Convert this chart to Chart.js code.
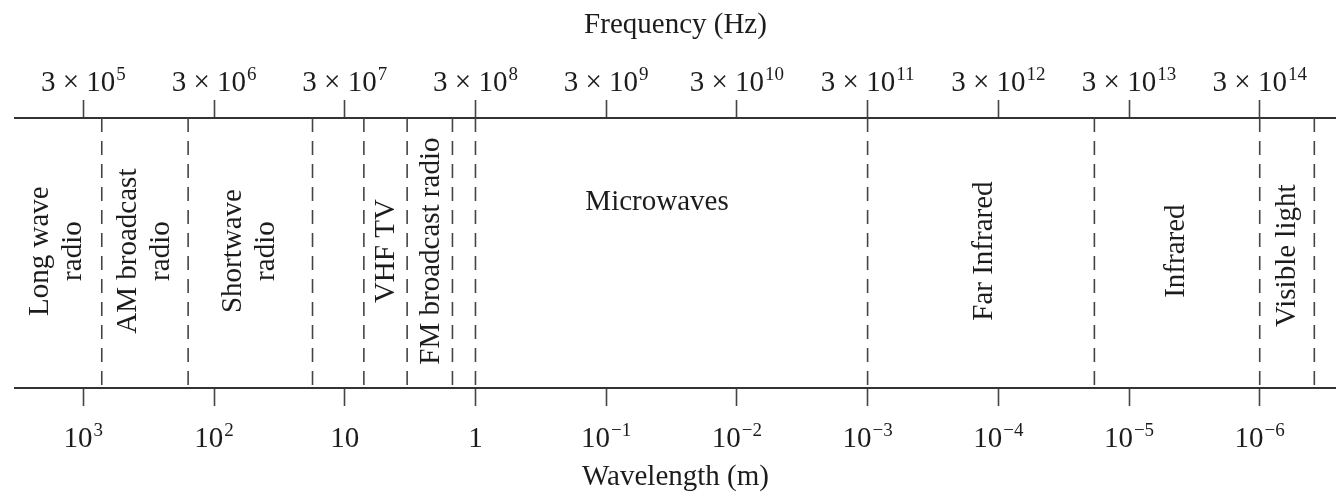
<!DOCTYPE html>
<html>
<head>
<meta charset="utf-8">
<script src="https://cdn.jsdelivr.net/npm/chart.js@4.4.1/dist/chart.umd.min.js"></script>
<style>
  html, body { margin: 0; padding: 0; background: #fff; }
  #wrap { width: 1336px; height: 498px; }
</style>
</head>
<body>
<div id="wrap"><canvas id="spectrum" width="1336" height="498"></canvas></div>
<script>
// frequency ticks in Hz (top axis shows 3 x 10^n, bottom axis the wavelength)
const tickFreqs = [3e5, 3e6, 3e7, 3e8, 3e9, 3e10, 3e11, 3e12, 3e13, 3e14];
const freqExponents = ["5", "6", "7", "8", "9", "10", "11", "12", "13", "14"];
const wavelengthBases = ["10", "10", "10", "1", "10", "10", "10", "10", "10", "10"];
const wavelengthExponents = ["3", "2", "", "", "−1", "−2", "−3", "−4", "−5", "−6"];

// band boundaries (Hz), dashed lines
const boundaries = [4.15e5, 1.9e6, 1.7e7, 4.2e7, 9.0e7, 2.0e8, 3e8, 3e11, 1.63e13, 3e14, 7.85e14];

// band names and where the text sits
const bandNames = [
  ["Long wave", "radio"],
  ["AM broadcast", "radio"],
  ["Shortwave", "radio"],
  ["VHF TV"],
  ["FM broadcast radio"],
  ["Microwaves"],
  ["Far Infrared"],
  ["Infrared"],
  ["Visible light"]
];
const bandLabelFreqs = [1.89e5, 8.9e5, 5.65e6, 6.2e7, 1.37e8, 7.35e9, 2.33e12, 6.9e13, 4.9e14];
const bandLabelHeights = [0.507, 0.507, 0.507, 0.507, 0.507, 0.689, 0.507, 0.507, 0.49];
const bandVertical = [true, true, true, true, true, false, true, true, true];

const FONT = '"Liberation Serif", "Times New Roman", serif';
const INK = "#1c1c1c";

function drawPower(ctx, base, sup, cx, baseline) {
  ctx.font = "29px " + FONT;
  const wb = ctx.measureText(base).width;
  ctx.font = "19px " + FONT;
  const ws = sup ? ctx.measureText(sup).width + 1 : 0;
  const left = cx - (wb + ws) / 2;
  ctx.textAlign = "left";
  ctx.textBaseline = "alphabetic";
  ctx.font = "29px " + FONT;
  ctx.fillText(base, left, baseline);
  if (sup) {
    ctx.font = "19px " + FONT;
    ctx.fillText(sup, left + wb + 1, baseline - 11);
  }
}

const labelPlugin = {
  id: "spectrumLabels",
  afterDraw(chart) {
    const ctx = chart.ctx;
    const xs = chart.scales.x;
    const ys = chart.scales.y;
    ctx.save();
    ctx.fillStyle = INK;

    // tick labels with superscripts
    tickFreqs.forEach((f, i) => {
      const px = xs.getPixelForValue(f);
      drawPower(ctx, "3 × 10", freqExponents[i], px, 90.5);
      drawPower(ctx, wavelengthBases[i], wavelengthExponents[i], px, 447);
    });

    // band names
    ctx.font = "29px " + FONT;
    ctx.textAlign = "center";
    ctx.textBaseline = "middle";
    bandNames.forEach((lines, i) => {
      const px = xs.getPixelForValue(bandLabelFreqs[i]);
      const py = ys.getPixelForValue(bandLabelHeights[i]);
      ctx.save();
      ctx.translate(px, py);
      if (bandVertical[i]) ctx.rotate(-Math.PI / 2);
      lines.forEach((t, j) => {
        ctx.fillText(t, 0, (j - (lines.length - 1) / 2) * 33);
      });
      ctx.restore();
    });
    ctx.restore();
  }
};

const datasets = boundaries.map(b => ({
  data: [{ x: b, y: 1 }, { x: b, y: 0 }],
  borderColor: "#444",
  borderWidth: 1.6,
  borderDash: [14, 9],
  pointRadius: 0,
  fill: false,
  clip: false
}));

const tickSetup = scale => {
  scale.ticks = tickFreqs.map(v => ({ value: v }));
};

new Chart(document.getElementById("spectrum"), {
  type: "line",
  data: { datasets: datasets },
  options: {
    responsive: false,
    animation: false,
    devicePixelRatio: 1,
    layout: { padding: { left: 15, right: 0, top: 0, bottom: 0 } },
    plugins: { legend: { display: false }, tooltip: { enabled: false } },
    scales: {
      x: {
        type: "logarithmic",
        position: "bottom",
        min: 9.0e4,
        max: 1.15e15,
        afterBuildTicks: tickSetup,
        afterFit: s => { s.height = 110; },
        ticks: { display: false },
        grid: { drawOnChartArea: false, drawTicks: true, tickLength: 18, tickColor: "#444", tickWidth: 1.6 },
        border: { display: true, color: "#333", width: 2 },
        title: {
          display: true, text: "Wavelength (m)", color: INK,
          font: { family: FONT, size: 29, lineHeight: 1 },
          padding: { top: 0, bottom: 6.5 }
        }
      },
      x2: {
        type: "logarithmic",
        position: "top",
        min: 9.0e4,
        max: 1.15e15,
        afterBuildTicks: tickSetup,
        afterFit: s => { s.height = 118; },
        ticks: { display: false },
        grid: { drawOnChartArea: false, drawTicks: true, tickLength: 18, tickColor: "#444", tickWidth: 1.6 },
        border: { display: true, color: "#333", width: 2 },
        title: {
          display: true, text: "Frequency (Hz)", color: INK,
          font: { family: FONT, size: 29, lineHeight: 1 },
          padding: { top: 10.5, bottom: 0 }
        }
      },
      y: { display: false, min: 0, max: 1 }
    }
  },
  plugins: [labelPlugin]
});
</script>
</body>
</html>
